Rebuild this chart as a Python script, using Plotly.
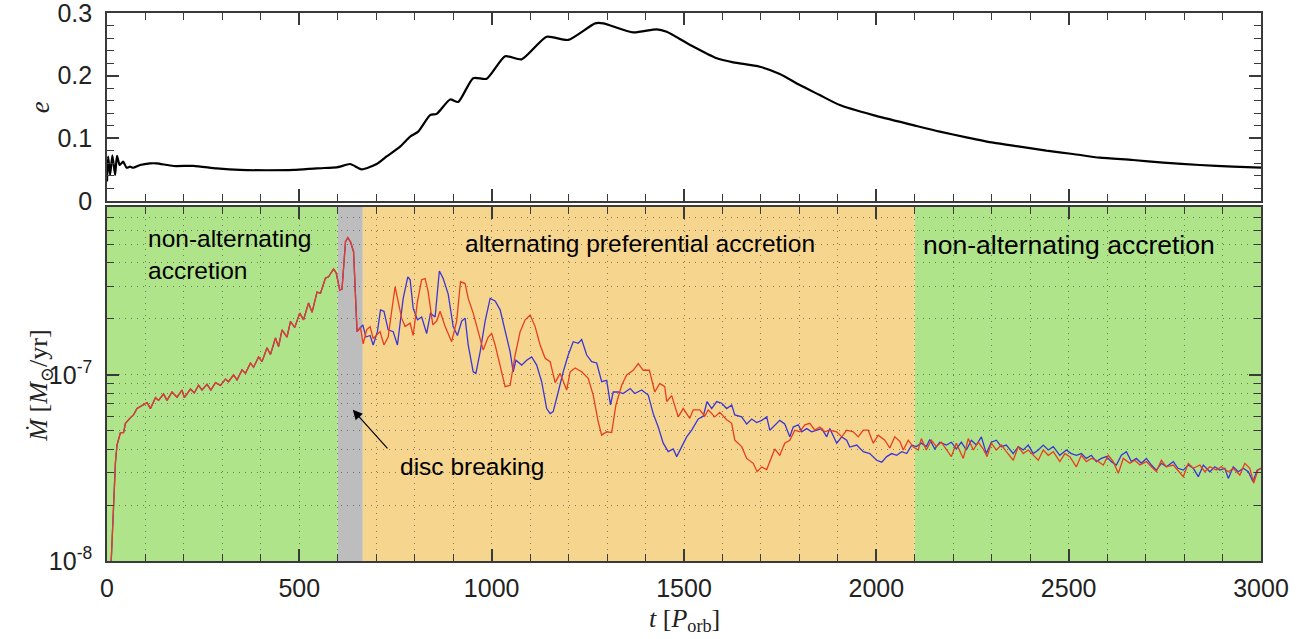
import math
import plotly.graph_objects as go

# ---- orbital eccentricity of the binary ----
t_e = [0, 3, 8, 14, 21, 26, 33, 42, 51, 60, 68, 86, 112, 129, 173, 225, 285, 346,
       415, 485, 545, 597, 606, 632, 662, 701, 727, 762, 788, 809, 840, 857, 892,
       913, 952, 987, 1035, 1078, 1143, 1199, 1269, 1290, 1368, 1429, 1455, 1516,
       1585, 1628, 1697, 1749, 1801, 1853, 1905, 1992, 2096, 2165, 2234, 2304,
       2373, 2442, 2511, 2581, 2667, 2746, 2841, 2927, 3000]
ecc = [0.031, 0.071, 0.0415, 0.073, 0.0415, 0.072, 0.0574, 0.0627, 0.053, 0.0547,
       0.053, 0.0574, 0.060, 0.060, 0.0558, 0.056, 0.052, 0.0495, 0.049, 0.0495,
       0.052, 0.0537, 0.0547, 0.059, 0.0505, 0.059, 0.071, 0.0867, 0.1026, 0.1106,
       0.137, 0.139, 0.162, 0.158, 0.196, 0.195, 0.231, 0.226, 0.262, 0.257,
       0.2835, 0.2835, 0.269, 0.274, 0.270, 0.249, 0.2277, 0.2213, 0.2143, 0.2027,
       0.185, 0.169, 0.153, 0.137, 0.121, 0.1106, 0.1016, 0.093, 0.0867, 0.0803,
       0.075, 0.0691, 0.0654, 0.0611, 0.0574, 0.0547, 0.0531]
ecc_ticks = [0, 0.1, 0.2, 0.3]

# ---- accretion rates, in units of 1e-8 Msun/yr ----
# both components follow the same track until the disc breaks
t_early = [10, 17, 22, 26, 35, 43, 48, 61, 69, 78, 87, 104, 113, 126, 134, 147, 156,
           169, 182, 195, 201, 217, 227, 238, 247, 260, 270, 282, 295, 308, 316, 329,
           338, 351, 360, 373, 381, 394, 403, 416, 425, 438, 446, 455, 468, 477, 488,
           501, 511, 524, 533, 546, 555, 568, 576, 589, 596, 605, 611, 620, 626, 633,
           641, 650, 659]
mdot_early = [0.9, 2.0, 3.4, 4.2, 4.9, 4.9, 5.5, 5.9, 6.1, 6.6, 6.75, 7.1, 6.6, 7.55,
              7.3, 7.9, 7.3, 8.1, 7.6, 8.3, 7.55, 8.4, 8.0, 8.8, 8.3, 8.9, 8.3, 9.1,
              8.8, 9.5, 9.2, 10.0, 9.4, 10.65, 10.2, 11.6, 11.0, 12.5, 11.8, 14.0,
              12.9, 15.8, 14.2, 17.5, 16.0, 19.4, 18.0, 21.5, 19.8, 24.4, 21.7, 27.9,
              27.5, 33.2, 33.7, 37.2, 35.3, 28.6, 29.0, 52.0, 54.7, 52.0, 46.0, 17.1,
              18.0]

t_red = [666, 675, 684, 692, 701, 710, 720, 731, 740, 749, 757, 766, 775, 788, 796,
         807, 818, 827, 835, 847, 857, 866, 879, 896, 909, 919, 931, 939, 952, 965,
         978, 991, 1000, 1009, 1022, 1035, 1048, 1061, 1074, 1087, 1100, 1113, 1126,
         1139, 1152, 1165, 1178, 1195, 1204, 1217, 1234, 1251, 1264, 1277, 1286,
         1299, 1312, 1323, 1338, 1351, 1368, 1381, 1394, 1410, 1424, 1437, 1450,
         1455, 1468, 1485, 1498, 1515, 1524, 1541, 1554, 1563, 1580, 1593, 1611,
         1624, 1632, 1650, 1663, 1680, 1690, 1702, 1715, 1728, 1736, 1749, 1762,
         1775, 1788, 1801, 1814, 1827, 1840, 1853, 1866, 1879, 1897, 1910, 1923,
         1940, 1953, 1966, 1979, 1992, 2005, 2022, 2035, 2048, 2061, 2070, 2083,
         2096, 2109, 2117, 2130, 2143, 2156, 2169, 2182, 2195, 2208, 2226, 2239,
         2252, 2265, 2278, 2288, 2299, 2312, 2325, 2338, 2356, 2369, 2382, 2395,
         2408, 2421, 2434, 2447, 2460, 2477, 2490, 2503, 2520, 2533, 2546, 2559,
         2572, 2590, 2603, 2616, 2629, 2642, 2659, 2672, 2685, 2702, 2715, 2728,
         2741, 2754, 2772, 2784, 2798, 2811, 2824, 2841, 2854, 2867, 2884, 2897,
         2915, 2928, 2945, 2958, 2971, 2981, 2992, 3000]
mdot_red = [14.7, 17.5, 18.2, 15.7, 16.3, 17.1, 14.5, 16.0, 22.0, 29.8, 24.8, 20.2,
            18.2, 19.0, 16.3, 24.8, 32.5, 33.0, 28.0, 18.6, 19.5, 22.0, 18.2, 15.1,
            19.5, 31.7, 31.0, 25.8, 21.5, 17.1, 13.6, 16.0, 16.7, 14.5, 11.3, 8.65,
            8.8, 12.8, 17.1, 19.8, 21.0, 18.2, 14.5, 12.3, 11.8, 9.1, 10.2, 8.3, 10.4,
            10.9, 10.4, 9.6, 7.8, 5.6, 4.75, 4.95, 4.9, 6.9, 8.8, 10.0, 10.6, 11.5,
            10.6, 10.6, 8.1, 9.0, 8.65, 7.2, 7.75, 5.95, 6.6, 5.85, 6.5, 6.5, 6.0,
            6.5, 5.95, 6.3, 5.75, 5.5, 4.46, 4.12, 3.56, 3.35, 3.02, 3.2, 3.1, 3.64,
            4.0, 3.7, 4.3, 4.46, 5.05, 4.95, 5.4, 5.5, 5.05, 5.25, 4.95, 5.05, 4.95,
            4.65, 5.05, 4.95, 4.65, 5.05, 5.05, 4.3, 4.75, 4.46, 4.05, 4.65, 4.4,
            3.95, 4.46, 4.1, 3.95, 4.55, 3.95, 4.46, 4.12, 4.35, 4.0, 3.64, 4.3, 3.56,
            4.55, 3.95, 4.35, 4.0, 3.64, 4.3, 3.95, 4.2, 3.87, 3.48, 4.12, 3.78, 3.95,
            3.7, 3.48, 3.95, 3.7, 3.87, 3.42, 3.78, 3.64, 3.21, 3.7, 3.42, 3.56, 3.48,
            3.28, 3.7, 3.42, 2.96, 3.56, 3.35, 3.48, 3.28, 3.42, 3.21, 3.02, 3.48,
            3.21, 3.28, 3.08, 2.84, 3.35, 3.15, 3.28, 3.02, 3.21, 3.08, 3.21, 3.02,
            3.15, 2.9, 3.35, 3.15, 2.62, 3.08, 3.15]

t_blue = [665, 673, 684, 692, 703, 711, 720, 731, 744, 755, 762, 770, 782, 788, 796,
          807, 818, 831, 841, 853, 864, 874, 887, 900, 911, 922, 931, 939, 952, 959,
          970, 983, 996, 1009, 1022, 1035, 1048, 1056, 1063, 1078, 1091, 1104, 1117,
          1130, 1143, 1152, 1160, 1173, 1186, 1199, 1212, 1225, 1234, 1247, 1260,
          1273, 1286, 1299, 1309, 1316, 1329, 1342, 1360, 1372, 1390, 1407, 1420,
          1433, 1446, 1459, 1472, 1481, 1494, 1507, 1520, 1537, 1550, 1560, 1572,
          1585, 1598, 1611, 1624, 1632, 1650, 1663, 1676, 1689, 1702, 1715, 1723,
          1736, 1749, 1762, 1775, 1784, 1797, 1806, 1819, 1832, 1845, 1858, 1871,
          1879, 1897, 1910, 1923, 1931, 1949, 1966, 1983, 2001, 2014, 2027, 2040,
          2053, 2066, 2079, 2092, 2104, 2117, 2130, 2139, 2152, 2165, 2182, 2195,
          2208, 2221, 2234, 2247, 2260, 2273, 2286, 2299, 2312, 2325, 2338, 2356,
          2369, 2382, 2395, 2408, 2421, 2434, 2447, 2460, 2477, 2494, 2507, 2520,
          2533, 2546, 2559, 2572, 2585, 2598, 2611, 2624, 2637, 2650, 2663, 2676,
          2689, 2702, 2715, 2728, 2741, 2754, 2772, 2784, 2798, 2811, 2824, 2837,
          2850, 2867, 2880, 2893, 2906, 2915, 2928, 2941, 2954, 2967, 2979, 2990,
          3000]
mdot_blue = [18.6, 16.0, 16.3, 14.5, 17.1, 22.4, 22.0, 17.5, 17.1, 14.5, 18.6, 25.8,
             33.7, 32.5, 22.8, 19.8, 20.5, 16.7, 21.5, 20.5, 36.2, 33.0, 27.2, 18.2,
             16.3, 19.5, 20.2, 14.5, 10.4, 10.2, 13.3, 19.5, 25.8, 25.0, 22.4, 17.1,
             13.3, 10.4, 12.0, 11.3, 12.0, 12.5, 11.3, 9.2, 6.6, 6.2, 6.35, 8.1, 10.4,
             12.8, 15.1, 14.8, 15.5, 12.8, 11.8, 11.6, 9.2, 9.35, 6.9, 8.1, 8.1, 7.95,
             8.45, 7.95, 8.3, 7.8, 6.2, 5.25, 4.3, 3.87, 4.0, 3.64, 4.1, 4.65, 5.05,
             5.8, 6.0, 7.2, 6.6, 7.2, 7.05, 6.6, 6.9, 6.1, 5.95, 5.45, 5.8, 5.55, 5.7,
             5.95, 5.05, 5.4, 5.7, 5.45, 4.65, 5.25, 5.4, 4.95, 5.15, 4.95, 5.05, 5.15,
             4.65, 5.15, 4.3, 4.65, 4.46, 4.1, 4.2, 3.87, 3.78, 3.48, 3.4, 3.64, 3.78,
             3.7, 3.87, 3.78, 4.2, 4.12, 4.3, 4.12, 4.5, 4.0, 4.35, 4.2, 4.35, 4.0,
             4.35, 3.95, 4.46, 4.2, 4.65, 3.78, 4.35, 4.46, 4.12, 4.2, 3.78, 4.12,
             3.95, 4.2, 3.78, 3.95, 4.2, 3.95, 4.12, 3.7, 3.95, 3.78, 3.7, 3.78, 3.56,
             3.7, 3.42, 3.56, 3.64, 3.42, 3.28, 3.7, 3.87, 3.42, 3.56, 3.35, 3.56,
             3.28, 3.08, 3.35, 3.21, 3.42, 3.15, 3.08, 3.28, 3.15, 2.84, 3.28, 3.02,
             3.21, 3.08, 3.15, 2.78, 3.21, 3.02, 3.15, 3.02, 2.68, 3.08, 3.15]

UNIT = 1e-8

# accretion phases shading the lower panel
phase_edges = [0, 600, 665, 2100, 3000]
phase_colors = ["#afe48a", "#bdbdbd", "#f6d68e", "#afe48a"]

phase_labels = ["non-alternating<br>accretion", "alternating preferential accretion",
                "non-alternating accretion"]
phase_label_t = [102, 1386, 2502]
phase_label_size = [24.5, 24.5, 26.5]

SANS = "Liberation Sans, Arial, Helvetica, sans-serif"
SERIF = "Liberation Serif, DejaVu Serif, Times New Roman, serif"
AXIS_COLOR = "#3a3a3a"
GRID = dict(showgrid=True, gridcolor="rgba(50,50,50,0.55)", griddash="1px,5px",
            gridwidth=1.2)

fig = go.Figure()

fig.add_trace(go.Scatter(
    x=t_e, y=ecc, mode="lines", xaxis="x", yaxis="y",
    line=dict(color="black", width=2.2, shape="spline", smoothing=0.6),
    showlegend=False, hoverinfo="skip"))

blue_t = t_early + t_blue
blue_v = [v * UNIT for v in mdot_early + mdot_blue]
red_t = t_early + t_red
red_v = [v * UNIT for v in mdot_early + mdot_red]

fig.add_trace(go.Scatter(
    x=blue_t, y=blue_v, mode="lines", xaxis="x2", yaxis="y2",
    line=dict(color="#3b35d8", width=1.3), showlegend=False, hoverinfo="skip"))
fig.add_trace(go.Scatter(
    x=red_t, y=red_v, mode="lines", xaxis="x2", yaxis="y2",
    line=dict(color="#ea3d1e", width=1.3), showlegend=False, hoverinfo="skip"))

shapes = []
for x0, x1, col in zip(phase_edges[:-1], phase_edges[1:], phase_colors):
    shapes.append(dict(type="rect", xref="x2", yref="y2 domain", x0=x0, x1=x1,
                       y0=0, y1=1, fillcolor=col, line=dict(width=0), layer="below"))

annotations = []
for i, (txt, tx, fs) in enumerate(zip(phase_labels, phase_label_t, phase_label_size)):
    left = i == 0
    annotations.append(dict(
        text=txt, x=tx, xref="x2", y=0.955 if left else 0.94, yref="y2 domain",
        xanchor="left" if left else "center", yanchor="top", showarrow=False,
        align="left", font=dict(family=SANS, size=fs, color="black")))

annotations.append(dict(
    text="disc breaking", x=757, xref="x2", y=0.266, yref="y2 domain",
    xanchor="left", yanchor="middle", showarrow=False,
    font=dict(family=SANS, size=24.5, color="black")))
annotations.append(dict(
    text="", x=639, y=math.log10(6.5e-8), xref="x2", yref="y2",
    ax=36, ay=40, axref="pixel", ayref="pixel", showarrow=True,
    arrowhead=2, arrowsize=1.6, arrowwidth=1.2, arrowcolor="black"))

# axis titles
annotations.append(dict(
    text="<i>e</i>", x=-0.058, xref="paper", y=0.828, yref="paper",
    xanchor="center", yanchor="middle",
    showarrow=False, textangle=-90, font=dict(family=SERIF, size=27, color="#222")))
annotations.append(dict(
    text="<i>Ṁ</i> [<i>M</i><sub>⊙</sub>/yr]", x=-0.058, xref="paper", y=0.32,
    yref="paper", xanchor="center", yanchor="middle", showarrow=False, textangle=-90,
    font=dict(family=SERIF, size=26, color="#222")))
annotations.append(dict(
    text="<i>t</i> [<i>P</i><sub>orb</sub>]", x=0.5, xref="paper", y=-0.108,
    yref="paper", xanchor="center", yanchor="middle", showarrow=False,
    font=dict(family=SERIF, size=26, color="#222")))

frame = dict(showline=True, linecolor=AXIS_COLOR, linewidth=1.6, mirror="ticks",
             ticks="inside", tickcolor=AXIS_COLOR, tickwidth=1.6, zeroline=False,
             automargin=False)

minor_log = [k * 1e-8 for k in range(2, 10)] + [k * 1e-7 for k in range(2, 9)]

fig.update_layout(
    width=1311, height=639,
    margin=dict(l=107, r=50, t=13, b=78, autoexpand=False),
    paper_bgcolor="white", plot_bgcolor="white",
    shapes=shapes, annotations=annotations,
    xaxis=dict(domain=[0, 1], anchor="y", range=[0, 3000], dtick=500, ticklen=12,
               showticklabels=False, showgrid=False,
               minor=dict(dtick=100, ticklen=7, ticks="inside", tickcolor=AXIS_COLOR,
                          tickwidth=1.4, showgrid=False),
               **frame),
    yaxis=dict(domain=[0.657, 1], anchor="x", range=[0, 0.3], tickmode="array",
               tickvals=ecc_ticks, ticktext=[f"{v:g}" for v in ecc_ticks],
               ticklen=12, showgrid=False, ticklabeloverflow="allow",
               tickfont=dict(family=SANS, size=25, color="#222"),
               ticklabelstandoff=8,
               minor=dict(dtick=0.02, ticklen=7, ticks="inside", tickcolor=AXIS_COLOR,
                          tickwidth=1.4, showgrid=False),
               **frame),
    xaxis2=dict(domain=[0, 1], anchor="y2", range=[0, 3000], dtick=500, ticklen=12,
                tickfont=dict(family=SANS, size=25, color="#222"),
                ticklabelstandoff=4, ticklabeloverflow="allow",
                minor=dict(dtick=100, ticklen=7, ticks="inside", tickcolor=AXIS_COLOR,
                           tickwidth=1.4, **GRID),
                **GRID, **frame),
    yaxis2=dict(domain=[0, 0.646], anchor="x2", type="log",
                range=[-8, math.log10(8e-7)],
                tickmode="array", tickvals=[1e-8, 1e-7],
                ticktext=["10<sup>-8</sup>", "10<sup>-7</sup>"], ticklen=12,
                tickfont=dict(family=SANS, size=25, color="#222"),
                ticklabelstandoff=8, ticklabeloverflow="allow",
                minor=dict(tickmode="array", tickvals=minor_log, ticklen=7,
                           ticks="inside", tickcolor=AXIS_COLOR, tickwidth=1.4, **GRID),
                **GRID, **frame),
)

fig.write_html("out.html")
